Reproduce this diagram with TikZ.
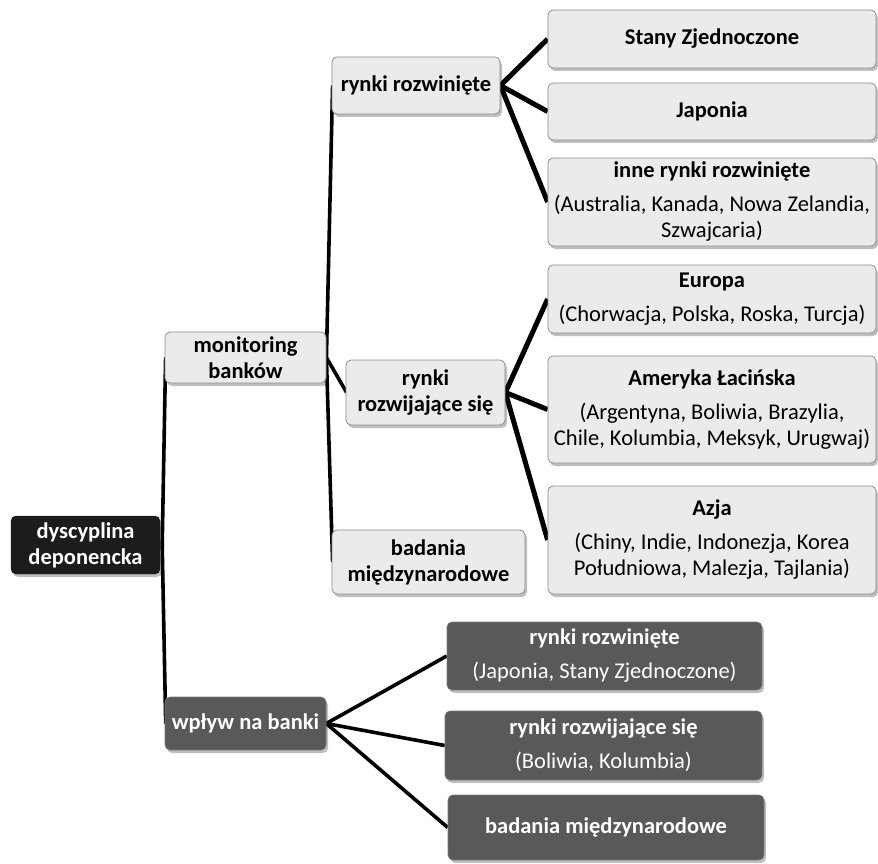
\documentclass[tikz,border=0pt]{standalone}
\usepackage{fontspec}
\setmainfont{Carlito}
\usetikzlibrary{shadows,backgrounds}
\definecolor{lightbox}{HTML}{EBEBEB}
\definecolor{lightedge}{HTML}{8C8C8C}
\definecolor{darkbox}{HTML}{59595B}
\definecolor{blackbox}{HTML}{1C1C1C}
\tikzset{
  basebox/.style={rounded corners=5pt, inner sep=0pt, align=center,
    font=\fontsize{22.5}{26}\selectfont,
    drop shadow={shadow xshift=2pt, shadow yshift=-3pt, opacity=0.25, fill=black}},
  lightnode/.style={basebox, fill=lightbox, draw=lightedge, line width=0.8pt},
  darknode/.style={basebox, fill=darkbox, draw=darkbox!80!white, line width=0.6pt, text=white},
  blacknode/.style={basebox, fill=blackbox, draw=blackbox, text=white},
  conn/.style={line width=3.6pt, black},
  thickconn/.style={line width=5pt, black},
}
\newcommand{\gap}{\\[8pt]}
\begin{document}
\begin{tikzpicture}[x=1pt,y=-1pt]
\useasboundingbox (0,0) rectangle (878,864);

\node[blacknode, minimum width=149pt, minimum height=58pt] (dysc) at (85.5,545) {\textbf{dyscyplina}\\\textbf{deponencka}};
\node[lightnode, minimum width=161pt, minimum height=51pt] (mon) at (245.5,357.5) {\textbf{monitoring}\\\textbf{banków}};
\node[darknode, minimum width=161pt, minimum height=53pt] (wp) at (245.5,723.5) {\textbf{wpływ na banki}};

\node[lightnode, minimum width=168pt, minimum height=57pt] (rr) at (416,85.5) {\textbf{rynki rozwinięte}};
\node[lightnode, minimum width=159pt, minimum height=65pt] (rrs) at (425.5,392.5) {\textbf{rynki}\\\textbf{rozwijające się}};
\node[lightnode, minimum width=193pt, minimum height=64pt] (bad) at (428.5,562) {\textbf{badania}\\\textbf{międzynarodowe}};

\node[lightnode, minimum width=328pt, minimum height=58pt] (stany) at (712,39) {\textbf{Stany Zjednoczone}};
\node[lightnode, minimum width=328pt, minimum height=57pt] (jap) at (712,111.5) {\textbf{Japonia}};
\node[lightnode, minimum width=328pt, minimum height=88pt] (inne) at (712,202) {\textbf{inne rynki rozwinięte}\gap(Australia, Kanada, Nowa Zelandia,\\Szwajcaria)};

\node[lightnode, minimum width=328pt, minimum height=68pt] (eur) at (712,299) {\textbf{Europa}\gap(Chorwacja, Polska, Roska, Turcja)};
\node[lightnode, minimum width=328pt, minimum height=107pt] (am) at (712,409.5) {\textbf{Ameryka Łacińska}\gap(Argentyna, Boliwia, Brazylia,\\Chile, Kolumbia, Meksyk, Urugwaj)};
\node[lightnode, minimum width=328pt, minimum height=108pt] (azja) at (712,540) {\textbf{Azja}\gap(Chiny, Indie, Indonezja, Korea\\Południowa, Malezja, Tajlania)};

\node[darknode, minimum width=315pt, minimum height=68pt] (d1) at (604.5,656) {\textbf{rynki rozwinięte}\gap(Japonia, Stany Zjednoczone)};
\node[darknode, minimum width=317pt, minimum height=69pt] (d2) at (603.5,745.5) {\textbf{rynki rozwijające się}\gap(Boliwia, Kolumbia)};
\node[darknode, minimum width=316pt, minimum height=65pt] (d3) at (606,827.5) {\textbf{badania międzynarodowe}};

\begin{scope}[on background layer]
\draw[conn] ([xshift=2pt]dysc.east) -- ([xshift=1pt]mon.west);
\draw[conn] ([xshift=2pt]dysc.east) -- ([xshift=1pt]wp.west);
\draw[conn] (mon.east) -- ([xshift=1pt]rr.west);
\draw[conn] (mon.east) -- ([xshift=1pt]rrs.west);
\draw[conn] (mon.east) -- ([xshift=1pt]bad.west);
\draw[thickconn] (rr.east) -- (stany.west);
\draw[thickconn] (rr.east) -- (jap.west);
\draw[thickconn] (rr.east) -- (inne.west);
\draw[thickconn] (rrs.east) -- (eur.west);
\draw[thickconn] (rrs.east) -- (am.west);
\draw[thickconn] (rrs.east) -- (azja.west);
\draw[conn] (wp.east) -- (d1.west);
\draw[conn] (wp.east) -- (d2.west);
\draw[conn] (wp.east) -- (d3.west);
\end{scope}
\end{tikzpicture}
\end{document}
